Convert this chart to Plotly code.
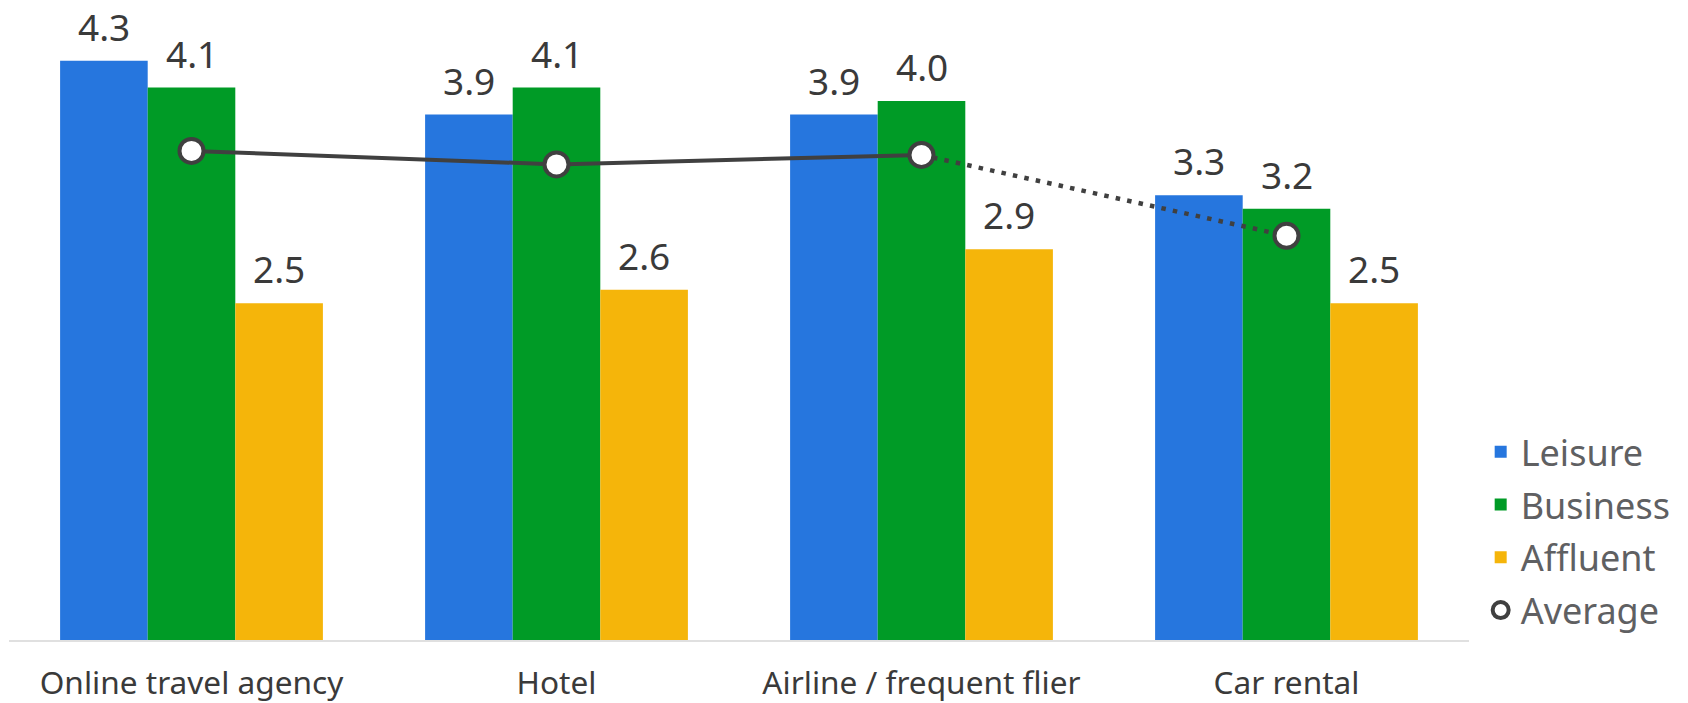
import plotly.graph_objects as go

# Survey scores by booking channel and traveller segment
categories = ["Online travel agency", "Hotel", "Airline / frequent flier", "Car rental"]
leisure = [4.3, 3.9, 3.9, 3.3]
business = [4.1, 4.1, 4.0, 3.2]
affluent = [2.5, 2.6, 2.9, 2.5]

# Average across the three segments for each channel
average = [round((a + b + c) / 3, 2) for a, b, c in zip(leisure, business, affluent)]

x = list(range(len(categories)))

FONT = "Noto Sans"
LINE_COLOR = "#404040"
BARGAP = 0.28

series = [
    ("Leisure", leisure, "#2676de"),
    ("Business", business, "#009b26"),
    ("Affluent", affluent, "#f5b50a"),
]

fig = go.Figure()

for name, values, color in series:
    fig.add_trace(go.Bar(
        x=x, y=values, name=name, legendgroup=name,
        marker=dict(color=color, line=dict(width=0)),
    ))

# Trend line: solid between the first three channels, dotted to the last
fig.add_trace(go.Scatter(
    x=x[:3], y=average[:3], mode="lines",
    line=dict(color=LINE_COLOR, width=4),
    showlegend=False, hoverinfo="skip",
))
fig.add_trace(go.Scatter(
    x=x[2:], y=average[2:], mode="lines",
    line=dict(color=LINE_COLOR, width=4.5, dash="4.5px,7.2px"),
    showlegend=False, hoverinfo="skip",
))
fig.add_trace(go.Scatter(
    x=x, y=average, mode="markers", name="Average", legendgroup="Average",
    marker=dict(symbol="circle", size=24, color="white",
                line=dict(color=LINE_COLOR, width=4)),
    cliponaxis=False,
))

# Value labels above each bar, placed at the bar's slot within its group
bar_width = (1 - BARGAP) / len(series)
for k, (_, values, _) in enumerate(series):
    offset = (k - (len(series) - 1) / 2) * bar_width
    for xi, v in zip(x, values):
        fig.add_annotation(
            x=xi + offset, y=v, xref="x", yref="y",
            text=f"{v:.1f}", showarrow=False,
            xanchor="center", yanchor="bottom", yshift=8, borderpad=0,
            font=dict(family=FONT, size=37, color="#3a3a3a"),
        )

fig.update_layout(
    width=1688, height=703,
    margin=dict(l=8.5, r=218.5, t=0, b=63),
    paper_bgcolor="white", plot_bgcolor="white",
    barmode="group", bargap=BARGAP, bargroupgap=0,
    font=dict(family=FONT, color="#3a3a3a"),
    showlegend=True,
    legend=dict(
        x=1.008, xanchor="left", y=0.341, yanchor="top",
        font=dict(family=FONT, size=36, color="#5f6062"),
        bgcolor="rgba(0,0,0,0)", borderwidth=0,
        traceorder="grouped", tracegroupgap=3, itemsizing="trace",
    ),
    xaxis=dict(
        tickmode="array", tickvals=x, ticktext=categories,
        range=[-0.5, 3.5], showgrid=False, zeroline=False,
        showline=True, linecolor="#e0e0e0", linewidth=2,
        ticks="", ticklabelstandoff=14, automargin=False,
        tickfont=dict(family=FONT, size=31.6, color="#3a3a3a"),
    ),
    yaxis=dict(
        range=[0, 4.75], visible=False, showgrid=False, zeroline=False,
        automargin=False,
    ),
)

fig.write_html("out.html")
